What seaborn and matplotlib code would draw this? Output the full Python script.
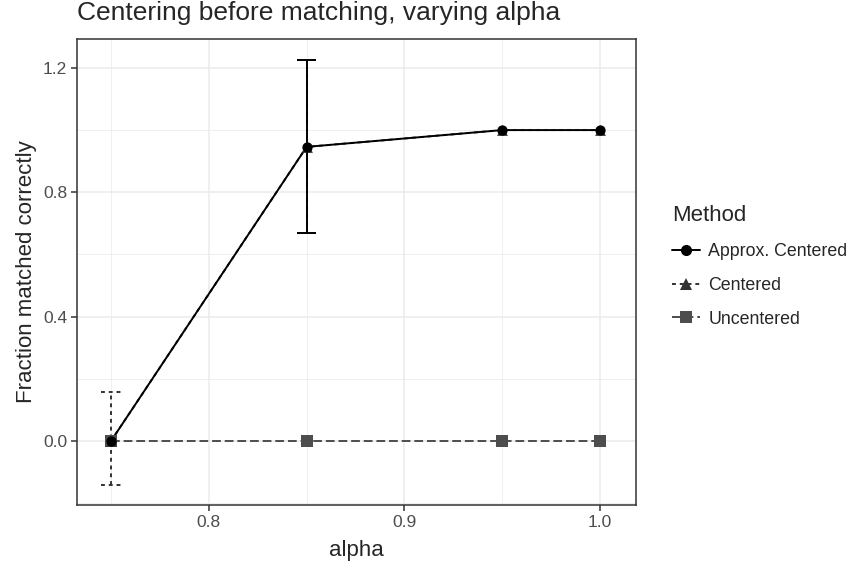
import matplotlib
matplotlib.use("Agg")
import matplotlib.pyplot as plt
from matplotlib.lines import Line2D
from matplotlib.ticker import MultipleLocator
import numpy as np
import pandas as pd
import seaborn as sns

########### DATA ##################################
alpha = [0.75, 0.85, 0.95, 1.0]
methods = ["Approx. Centered", "Centered", "Uncentered"]
approx_mean = [0.0, 0.946, 1.0, 1.0]
approx_lo = [0.0, 0.669, 1.0, 1.0]
approx_hi = [0.0, 1.225, 1.0, 1.0]
cent_mean = [0.0, 0.946, 1.0, 1.0]
cent_lo = [-0.142, 0.669, 1.0, 1.0]
cent_hi = [0.157, 1.225, 1.0, 1.0]
uncent_mean = [0.0, 0.0, 0.0, 0.0]
uncent_lo = [0.0, 0.0, 0.0, 0.0]
uncent_hi = [0.0, 0.0, 0.0, 0.0]

df = pd.DataFrame({
    "alpha": alpha * 3,
    "Method": np.repeat(methods, len(alpha)),
    "frac": approx_mean + cent_mean + uncent_mean,
    "lo": approx_lo + cent_lo + uncent_lo,
    "hi": approx_hi + cent_hi + uncent_hi,
})

########### STYLE ##################################
sns.set_style("white")
plt.rcParams['font.family'] = ['Liberation Sans', 'DejaVu Sans']

colors = {"Approx. Centered": "#000000", "Centered": "#333333", "Uncentered": "#4d4d4d"}
lstyle = {"Approx. Centered": "-", "Centered": (0, (2, 2)), "Uncentered": (0, (4.5, 2))}
markers = {"Approx. Centered": "o", "Centered": "^", "Uncentered": "s"}
msize = {"Approx. Centered": 55, "Centered": 60, "Uncentered": 70}
lw = 1.4
cap = 0.005

fig = plt.figure(figsize=(8.55, 5.65), dpi=100)
ax = fig.add_axes([77 / 855, 1 - 505 / 565, 559 / 855, 466 / 565])

# back to front so the circles end up on top
for m in methods[::-1]:
    sub = df[df["Method"] == m]
    sns.lineplot(data=sub, x="alpha", y="frac", ax=ax, color=colors[m],
                 linewidth=lw, legend=False, zorder=3, linestyle=lstyle[m])
    bars = sub[sub["hi"] > sub["lo"]]
    ax.vlines(bars["alpha"], bars["lo"], bars["hi"], color=colors[m],
              linewidth=lw, linestyles=[lstyle[m]], zorder=3)
    ax.hlines(bars["lo"], bars["alpha"] - cap, bars["alpha"] + cap,
              color=colors[m], linewidth=lw, linestyles=[lstyle[m]], zorder=3)
    ax.hlines(bars["hi"], bars["alpha"] - cap, bars["alpha"] + cap,
              color=colors[m], linewidth=lw, linestyles=[lstyle[m]], zorder=3)
    ax.scatter(sub["alpha"], sub["frac"], marker=markers[m], s=msize[m],
               color=colors[m], zorder=4, linewidths=0)

ax.set_xlim(0.7326, 1.0184)
ax.set_ylim(-0.206, 1.293)
ax.xaxis.set_minor_locator(MultipleLocator(0.05))
ax.yaxis.set_minor_locator(MultipleLocator(0.2))
ax.set_xticks([0.8, 0.9, 1.0])
ax.set_xticklabels(["0.8", "0.9", "1.0"])
ax.set_yticks([0.0, 0.4, 0.8, 1.2])
ax.set_yticklabels(["0.0", "0.4", "0.8", "1.2"])
ax.grid(which="major", color="#ebebeb", linewidth=1.1, zorder=0)
ax.grid(which="minor", color="#ebebeb", linewidth=0.55, zorder=0)
ax.set_axisbelow(True)
for s in ax.spines.values():
    s.set_color("#333333")
    s.set_linewidth(1.1)
ax.tick_params(which="major", length=4, width=1.1, color="#333333",
               labelsize=12.5, labelcolor="#4d4d4d", pad=3, bottom=True, left=True)
ax.tick_params(which="minor", length=0)

ax.set_xlabel("alpha", fontsize=16)
ax.set_ylabel("Fraction matched correctly", fontsize=16)
ax.xaxis.set_label_coords(0.5, -0.075)
ax.yaxis.set_label_coords(-0.091, 0.5)
ax.yaxis.label.set_va("center")
fig.text(77 / 855, 1 - 20 / 565, "Centering before matching, varying alpha",
         fontsize=19, ha="left", va="baseline")

handles = []
for m in methods:
    handles.append(Line2D([0], [0], color=colors[m], linewidth=lw,
                          linestyle=lstyle[m], marker=markers[m],
                          markersize=8, markeredgewidth=0))
leg = fig.legend(handles, methods, title="Method", loc="upper left",
                 bbox_to_anchor=(656 / 855, 1 - 189 / 565), frameon=False,
                 fontsize=12.8, title_fontsize=16, handlelength=1.6,
                 handletextpad=0.45, labelspacing=0.95)
leg._legend_box.align = "left"

plt.savefig("out.png", dpi=100)
